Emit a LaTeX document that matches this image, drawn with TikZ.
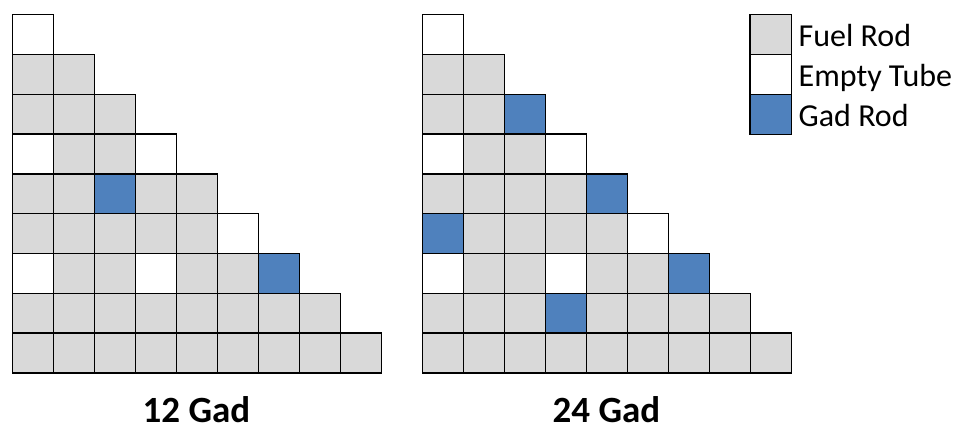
\documentclass[tikz,border=0pt]{standalone}
\usepackage{fontspec}
\setmainfont{Carlito}
\definecolor{fuelgray}{HTML}{D9D9D9}
\definecolor{gadblue}{HTML}{4F81BD}
\tikzset{
  cell/.style={draw=black, line width=1.4pt, anchor=north west, inner sep=0pt,
    minimum width=41pt, minimum height=39.8pt},
  fr/.style={fill=fuelgray},
  et/.style={fill=white},
  gr/.style={fill=gadblue},
  legtext/.style={anchor=base west, inner sep=0pt, font=\fontsize{32}{35}\selectfont},
  caption/.style={anchor=base, inner sep=0pt, font=\fontsize{37}{40}\selectfont\bfseries}
}
\begin{document}
\begin{tikzpicture}[x=1pt,y=-1pt]
\useasboundingbox (0,0) rectangle (961,428);
% left grid: 12 Gad
\foreach \r/\cells in {0/{et},1/{fr,fr},2/{fr,fr,fr},3/{et,fr,fr,et},4/{fr,fr,gr,fr,fr},
  5/{fr,fr,fr,fr,fr,et},6/{et,fr,fr,et,fr,fr,gr},7/{fr,fr,fr,fr,fr,fr,fr,fr},
  8/{fr,fr,fr,fr,fr,fr,fr,fr,fr}}{
  \foreach \t [count=\c from 0] in \cells {
    \node[cell,\t] (L-\r-\c) at ({12+\c*41},{14+\r*39.8}) {};
  }
}
% right grid: 24 Gad
\foreach \r/\cells in {0/{et},1/{fr,fr},2/{fr,fr,gr},3/{et,fr,fr,et},4/{fr,fr,fr,fr,gr},
  5/{gr,fr,fr,fr,fr,et},6/{et,fr,fr,et,fr,fr,gr},7/{fr,fr,fr,gr,fr,fr,fr,fr},
  8/{fr,fr,fr,fr,fr,fr,fr,fr,fr}}{
  \foreach \t [count=\c from 0] in \cells {
    \node[cell,\t] (R-\r-\c) at ({421.5+\c*41},{14+\r*39.8}) {};
  }
}
% legend
\node[cell,fr,minimum width=41.7pt,minimum height=40pt] (lg1) at (749.3,14) {};
\node[cell,et,minimum width=41.7pt,minimum height=40pt] (lg2) at (749.3,54) {};
\node[cell,gr,minimum width=41.7pt,minimum height=40pt] (lg3) at (749.3,94) {};
\node[legtext] (lt1) at (798.5,47) {Fuel Rod};
\node[legtext] (lt2) at (798.5,86.6) {Empty Tube};
\node[legtext] (lt3) at (798.5,126.4) {Gad Rod};
% captions
\node[caption] (cap1) at (196.5,422.5) {12 Gad};
\node[caption] (cap2) at (606.5,422.5) {24 Gad};
\end{tikzpicture}
\end{document}
